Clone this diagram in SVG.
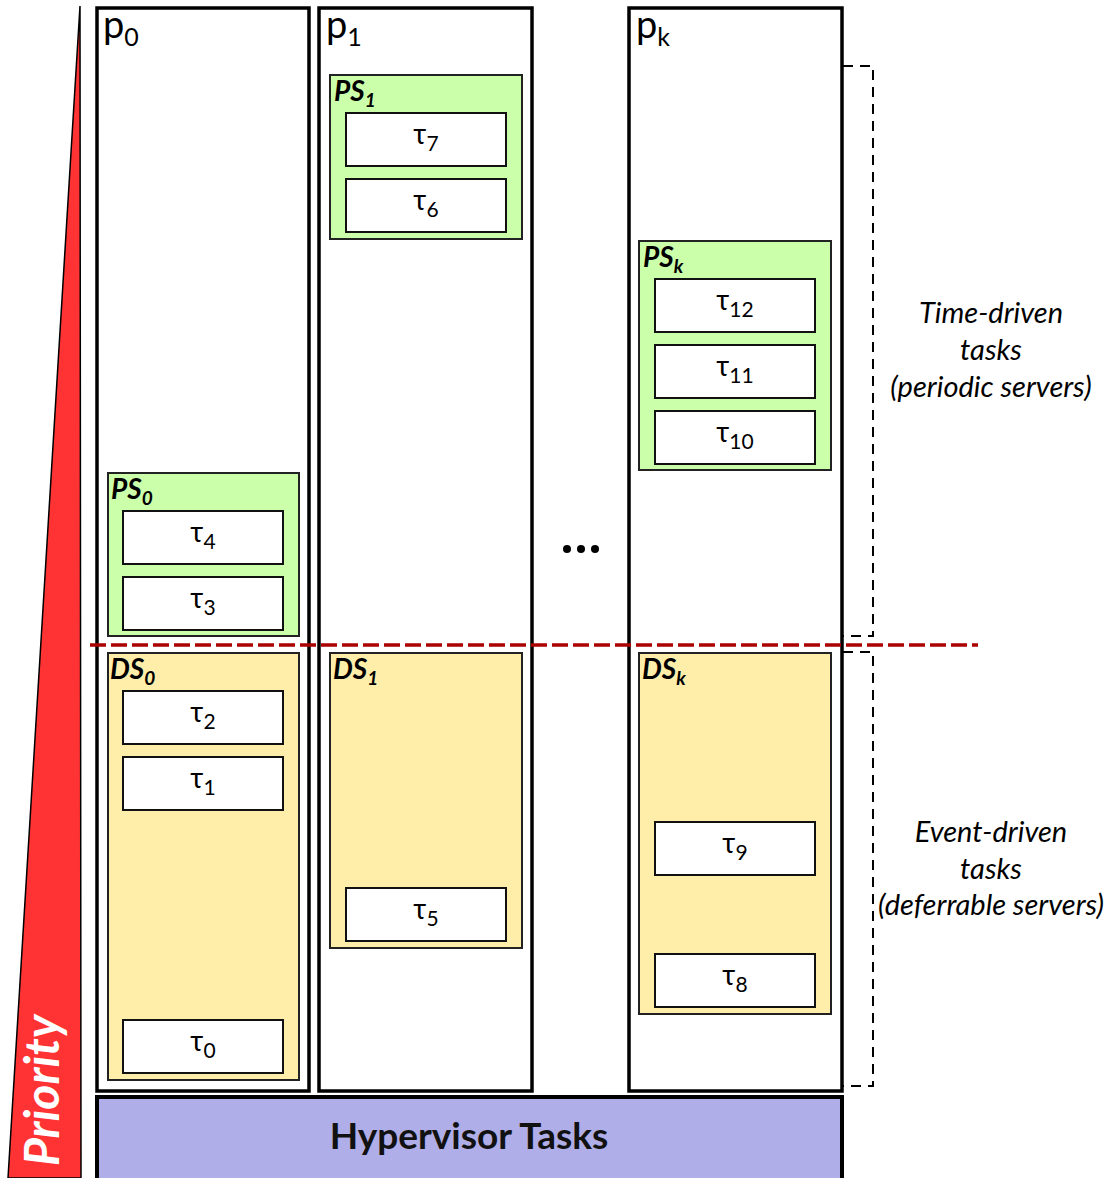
<svg xmlns="http://www.w3.org/2000/svg" width="1120" height="1178" viewBox="0 0 1120 1178">
<style>
.col{fill:#fff;stroke:#000;stroke-width:3.5}
.ps{fill:#ccffaa;stroke:#222;stroke-width:2}
.ds{fill:#ffeeaa;stroke:#222;stroke-width:2}
.task{fill:#fff;stroke:#111;stroke-width:2}
.t{font-family:Lato,"DejaVu Sans",sans-serif;font-size:28px;fill:#000;text-anchor:middle}
.sub{font-size:21px}
.psub{font-size:25px}
.ssub{font-size:19px}
.pl{font-family:Lato,"DejaVu Sans",sans-serif;font-size:38px;fill:#000}
.sl{font-family:Lato,"DejaVu Sans",sans-serif;font-size:28px;font-weight:bold;font-style:italic;fill:#000}
.side{font-family:Lato,"DejaVu Sans",sans-serif;font-size:29px;font-style:italic;fill:#000;text-anchor:middle}
.br{fill:none;stroke:#000;stroke-width:2;stroke-dasharray:10,7}
</style>
<g id="priority">
<polygon points="80,6 8,1178 81,1178" fill="#ff3333" stroke="#000" stroke-width="1.5"/>
<text transform="translate(59,1166) rotate(-90)" font-family="Lato,'DejaVu Sans',sans-serif" font-size="48" font-weight="bold" font-style="italic" fill="#fff">Priority</text>
</g>
<g id="p0">
<rect class="col" x="97" y="8" width="212" height="1083"/>
<text class="pl" x="103" y="38">p<tspan class="psub" dy="8">0</tspan></text>
</g>
<g id="p1">
<rect class="col" x="319" y="8" width="213" height="1083"/>
<text class="pl" x="326" y="38">p<tspan class="psub" dy="8">1</tspan></text>
</g>
<g id="pk">
<rect class="col" x="629" y="8" width="213" height="1083"/>
<text class="pl" x="636" y="38">p<tspan class="psub" dy="8">k</tspan></text>
</g>
<g id="dots" fill="#000">
<circle cx="567" cy="549" r="4"/><circle cx="581" cy="549" r="4"/><circle cx="595" cy="549" r="4"/>
</g>
<g id="PS0">
<rect class="ps" x="108" y="473" width="191" height="163"/>
<text class="sl" x="111" y="499">PS<tspan class="ssub" dy="6">0</tspan></text>
</g>
<g id="tau4"><rect class="task" x="123" y="511" width="160" height="53"/><text class="t" x="203" y="542">τ<tspan class="sub" dy="7">4</tspan></text></g>
<g id="tau3"><rect class="task" x="123" y="577" width="160" height="53"/><text class="t" x="203" y="608">τ<tspan class="sub" dy="7">3</tspan></text></g>
<g id="DS0">
<rect class="ds" x="108" y="653" width="191" height="427"/>
<text class="sl" x="110" y="679">DS<tspan class="ssub" dy="6">0</tspan></text>
</g>
<g id="tau2"><rect class="task" x="123" y="691" width="160" height="53"/><text class="t" x="203" y="722">τ<tspan class="sub" dy="7">2</tspan></text></g>
<g id="tau1"><rect class="task" x="123" y="757" width="160" height="53"/><text class="t" x="203" y="788">τ<tspan class="sub" dy="7">1</tspan></text></g>
<g id="tau0"><rect class="task" x="123" y="1020" width="160" height="53"/><text class="t" x="203" y="1051">τ<tspan class="sub" dy="7">0</tspan></text></g>
<g id="PS1">
<rect class="ps" x="330" y="75" width="192" height="164"/>
<text class="sl" x="334" y="101">PS<tspan class="ssub" dy="6">1</tspan></text>
</g>
<g id="tau7"><rect class="task" x="346" y="113" width="160" height="53"/><text class="t" x="426" y="144">τ<tspan class="sub" dy="7">7</tspan></text></g>
<g id="tau6"><rect class="task" x="346" y="179" width="160" height="53"/><text class="t" x="426" y="210">τ<tspan class="sub" dy="7">6</tspan></text></g>
<g id="DS1">
<rect class="ds" x="330" y="653" width="192" height="295"/>
<text class="sl" x="333" y="679">DS<tspan class="ssub" dy="6">1</tspan></text>
</g>
<g id="tau5"><rect class="task" x="346" y="888" width="160" height="53"/><text class="t" x="426" y="919">τ<tspan class="sub" dy="7">5</tspan></text></g>
<g id="PSk">
<rect class="ps" x="639" y="241" width="192" height="229"/>
<text class="sl" x="643" y="267">PS<tspan class="ssub" dy="6">k</tspan></text>
</g>
<g id="tau12"><rect class="task" x="655" y="279" width="160" height="53"/><text class="t" x="735" y="310">τ<tspan class="sub" dy="7">12</tspan></text></g>
<g id="tau11"><rect class="task" x="655" y="345" width="160" height="53"/><text class="t" x="735" y="376">τ<tspan class="sub" dy="7">11</tspan></text></g>
<g id="tau10"><rect class="task" x="655" y="411" width="160" height="53"/><text class="t" x="735" y="442">τ<tspan class="sub" dy="7">10</tspan></text></g>
<g id="DSk">
<rect class="ds" x="639" y="653" width="192" height="361"/>
<text class="sl" x="642" y="679">DS<tspan class="ssub" dy="6">k</tspan></text>
</g>
<g id="tau9"><rect class="task" x="655" y="822" width="160" height="53"/><text class="t" x="735" y="853">τ<tspan class="sub" dy="7">9</tspan></text></g>
<g id="tau8"><rect class="task" x="655" y="954" width="160" height="53"/><text class="t" x="735" y="985">τ<tspan class="sub" dy="7">8</tspan></text></g>
<g id="hypervisor">
<rect x="97" y="1097" width="745" height="84" fill="#b0aee8" stroke="#000" stroke-width="4"/>
<text x="469" y="1149" font-family="Lato,'DejaVu Sans',sans-serif" font-size="37" font-weight="bold" fill="#111" text-anchor="middle">Hypervisor Tasks</text>
</g>
<g id="connectors">
<line x1="90" y1="645" x2="978" y2="645" stroke="#aa0000" stroke-width="3.5" stroke-dasharray="16,5"/>
<polyline class="br" points="843,66 873,66 873,636 843,636"/>
<polyline class="br" points="843,652 873,652 873,1086 843,1086"/>
</g>
<g id="labels">
<text class="side" x="991" y="323">Time-driven</text>
<text class="side" x="991" y="360">tasks</text>
<text class="side" x="991" y="397">(periodic servers)</text>
<text class="side" x="991" y="842">Event-driven</text>
<text class="side" x="991" y="879">tasks</text>
<text class="side" x="991" y="915">(deferrable servers)</text>
</g>
</svg>
